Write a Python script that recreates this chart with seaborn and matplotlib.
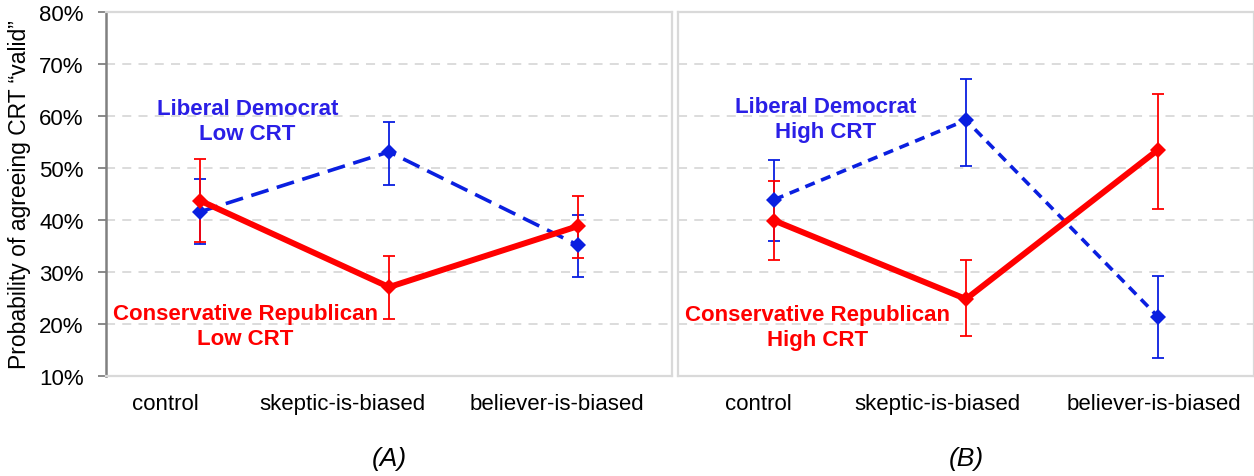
import matplotlib
matplotlib.use("Agg")
import matplotlib.pyplot as plt
import matplotlib.transforms as mtransforms
import seaborn as sns
import numpy as np
import pandas as pd

# categories
conditions = ["control", "skeptic-is-biased", "believer-is-biased"]

# Panel A - Low CRT (percent)
dem_low = [41.6, 53.1, 35.2]
dem_low_hi = [47.9, 58.9, 41.0]
dem_low_lo = [35.4, 46.8, 29.0]
rep_low = [43.7, 27.1, 38.8]
rep_low_hi = [51.7, 33.1, 44.7]
rep_low_lo = [35.8, 21.0, 32.6]

# Panel B - High CRT (percent)
dem_high = [43.9, 59.2, 21.4]
dem_high_hi = [51.5, 67.1, 29.2]
dem_high_lo = [36.0, 50.4, 13.5]
rep_high = [39.9, 24.8, 53.5]
rep_high_hi = [47.5, 32.3, 64.3]
rep_high_lo = [32.4, 17.6, 42.1]

y_ticks = [10, 20, 30, 40, 50, 60, 70, 80]

BLUE = "#0a1fe0"
BLUE_TXT = "#2a1fe6"
RED = "#ff0000"
GRID = "#d9d9d9"

sns.set_style("white")
plt.rcParams["font.family"] = ["Liberation Sans", "DejaVu Sans"]
plt.rcParams["text.color"] = "black"
plt.rcParams["xtick.color"] = "black"
plt.rcParams["ytick.color"] = "black"
plt.rcParams["axes.labelcolor"] = "black"

fig = plt.figure(figsize=(12.54, 4.77), dpi=100)
ax_a = fig.add_axes([106 / 1254, 100 / 477, 566 / 1254, 364 / 477])
ax_b = fig.add_axes([678 / 1254, 100 / 477, 576 / 1254, 364 / 477])


def draw_panel(ax, dem, dem_lo, dem_hi, rep, rep_lo, rep_hi, dem_dashes, tag,
               dem_txt, rep_txt, label_shift):
    df = pd.DataFrame({
        "x": list(range(len(conditions))) * 2,
        "y": dem + rep,
        "group": ["dem"] * 3 + ["rep"] * 3,
    })
    # grid
    for t in y_ticks[1:-1]:
        ax.axhline(t, color=GRID, lw=1.3, ls=(0, (5, 4)), zorder=0)

    x = np.arange(len(conditions))
    # error bars
    ax.errorbar(x, dem, yerr=[np.array(dem) - np.array(dem_lo), np.array(dem_hi) - np.array(dem)],
                fmt="none", ecolor=BLUE, elinewidth=1.3, capsize=4.5, capthick=1.3, zorder=2)
    ax.errorbar(x, rep, yerr=[np.array(rep) - np.array(rep_lo), np.array(rep_hi) - np.array(rep)],
                fmt="none", ecolor=RED, elinewidth=1.3, capsize=4.5, capthick=1.3, zorder=2)

    sns.lineplot(data=df[df.group == "dem"], x="x", y="y", ax=ax, color=BLUE,
                 lw=2.6, marker="D", markersize=8, markeredgewidth=0, zorder=3)
    ax.lines[-1].set_dashes(dem_dashes)
    sns.lineplot(data=df[df.group == "rep"], x="x", y="y", ax=ax, color=RED,
                 lw=4.3, marker="D", markersize=8, markeredgewidth=0, zorder=4)

    ax.set_xlim(-0.5, 2.5)
    ax.set_ylim(10, 80)
    ax.set_xticks(x)
    ax.set_xticklabels(conditions, fontsize=16)
    ax.tick_params(axis="x", length=0, pad=12, labelcolor="black")
    ax.set_xlabel("")
    ax.set_ylabel("")

    for lab, dx in zip(ax.get_xticklabels(), label_shift):
        lab.set_transform(lab.get_transform() +
                          mtransforms.ScaledTranslation(dx / 100, 0, fig.dpi_scale_trans))

    for s in ax.spines.values():
        s.set_color(GRID)
        s.set_linewidth(1.6)
        s.set_visible(True)

    ax.text(dem_txt[0], dem_txt[1], dem_txt[2], color=BLUE_TXT, fontsize=16,
            fontweight="bold", ha="center", va="center", linespacing=1.25)
    ax.text(rep_txt[0], rep_txt[1], rep_txt[2], color=RED, fontsize=16,
            fontweight="bold", ha="center", va="center", linespacing=1.25)
    ax.text(0.5, -0.225, tag, transform=ax.transAxes, ha="center", va="center",
            fontsize=19, style="italic", color="black")


draw_panel(ax_a, dem_low, dem_low_lo, dem_low_hi, rep_low, rep_low_lo, rep_low_hi,
           (5, 2.4), "(A)",
           (0.25, 59.0, "Liberal Democrat\nLow CRT"),
           (0.24, 19.6, "Conservative Republican\nLow CRT"),
           [-35, -47, -21])
draw_panel(ax_b, dem_high, dem_high_lo, dem_high_hi, rep_high, rep_high_lo, rep_high_hi,
           (2.8, 1.9), "(B)",
           (0.27, 59.4, "Liberal Democrat\nHigh CRT"),
           (0.225, 19.4, "Conservative Republican\nHigh CRT"),
           [-16, -29, -4])

ax_a.set_yticks(y_ticks)
ax_a.set_yticklabels([f"{t}%" for t in y_ticks], fontsize=16)
ax_a.tick_params(axis="y", length=6, width=1.3, color="#808080", labelcolor="black",
                 left=True, pad=10)
ax_a.spines["left"].set_color("#808080")
ax_a.spines["left"].set_linewidth(1.8)
ax_a.set_ylabel("Probability of agreeing CRT \u201cvalid\u201d", fontsize=16.5,
                labelpad=6, color="black")

ax_b.set_yticks(y_ticks)
ax_b.tick_params(axis="y", left=False, labelleft=False)

fig.savefig("out.png", dpi=100)
